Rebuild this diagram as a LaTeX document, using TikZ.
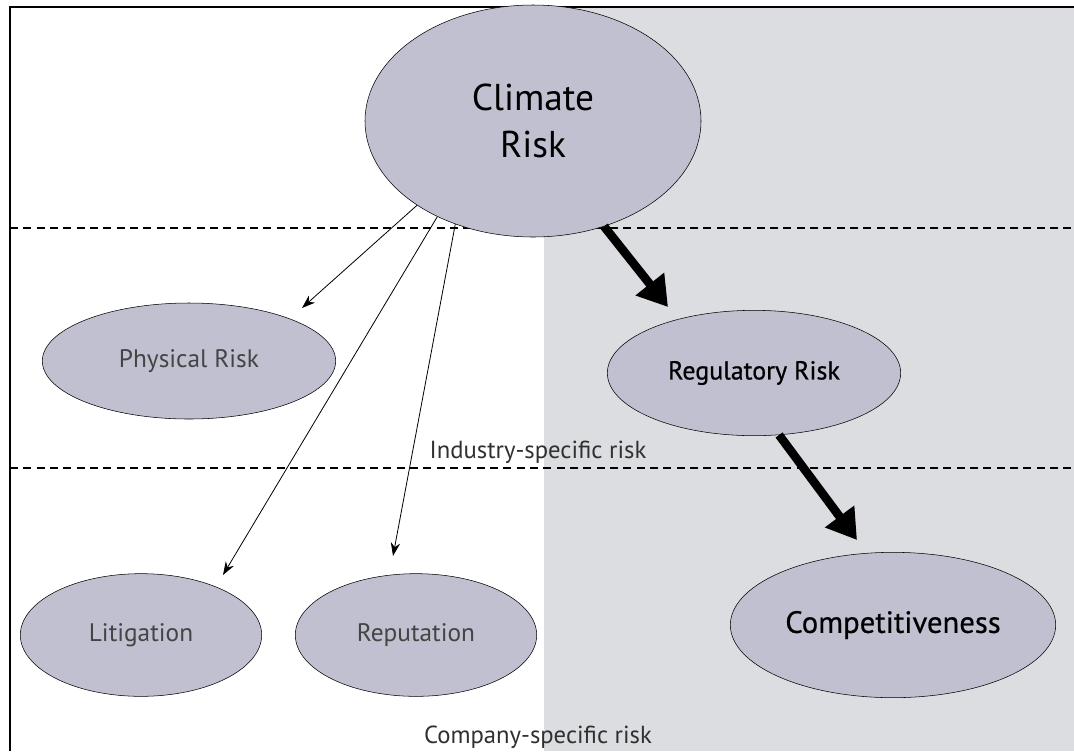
\documentclass[tikz,border=0pt]{standalone}
\usepackage{fontspec}
\setmainfont{PT Sans}
\newfontfamily\medfont[FakeBold=0.6]{PT Sans}
\usetikzlibrary{shapes}
\usetikzlibrary{arrows.meta}
\definecolor{bggrey}{RGB}{220,221,224}
\definecolor{riskfill}{RGB}{193,192,208}
\definecolor{txtgrey}{RGB}{68,68,68}
\tikzset{risk/.style={
    ellipse,
    draw=black,
    fill=riskfill,
    inner sep=0pt,
    align=center,
    #1
  },
  thinarrow/.style={
    semithick,
    -{Stealth[length=10pt,width=7pt]}
  },
  thickarrow/.style={
    line width=6.5pt,
    -{Triangle[length=22pt,width=26pt]}
  },
  divider/.style={
    dashed,
    line width=1pt,
    dash pattern=on 6pt off 4pt
  }
}

\begin{document}
\begin{tikzpicture}[x=0.75pt,y=-0.75pt]
      \useasboundingbox (0,0) rectangle (1074,751);
      % shaded half and frame
      \fill[bggrey] (544,7) rectangle (1074,751);
      \draw[line width=1.5pt] (1074,7) -- (10,7) -- (10,751);
      \draw[divider] (10,228) -- (1074,228);
      \draw[divider] (10,468) -- (1074,468);
      \node[risk={minimum width=252pt,minimum height=174pt},font=\fontsize{28}{35}\selectfont] (clim) at (533,121) {Climate\\Risk};
      \node[risk={minimum width=220pt,minimum height=87pt},text=txtgrey,font=\fontsize{19}{22}\selectfont] (phys) at (189,361) {Physical Risk};
      \node[risk={minimum width=220pt,minimum height=94pt},font=\fontsize{19.5}{22}\medfont] (regu) at (754,373) {Regulatory Risk};
      \node[risk={minimum width=244pt,minimum height=109pt},font=\fontsize{23}{26}\medfont] (comp) at (893,625) {Competitiveness};
      \node[risk={minimum width=181pt,minimum height=92pt},text=txtgrey,font=\fontsize{19}{22}\selectfont] (liti) at (141,635) {Litigation};
      \node[risk={minimum width=181pt,minimum height=92pt},text=txtgrey,font=\fontsize{19}{22}\selectfont] (repu) at (416,635) {Reputation};
      \node[text=txtgrey!70!black,font=\fontsize{18.5}{21}\selectfont] (indlbl) at (538,452) {Industry-specific risk};
      \node[text=txtgrey!70!black,font=\fontsize{18.5}{21}\selectfont] (comlbl) at (538,737) {Company-specific risk};
      % arrow tips stop short of the ellipses
      \coordinate (physend) at (302,308);
      \coordinate (litiend) at (223,575);
      \coordinate (repuend) at (393,556);
      \coordinate (reguend) at (668,307);
      \coordinate (compend) at (857,540);
      \draw[thinarrow] (clim.216.8) -- (physend);
      \draw[thinarrow] (clim.225.3) -- (litiend);
      \draw[thinarrow] (clim.233.6) -- (repuend);
      \draw[thickarrow] (clim.304) -- (reguend);
      \draw[thickarrow] (regu.292) -- (compend);
\end{tikzpicture}
\end{document}
